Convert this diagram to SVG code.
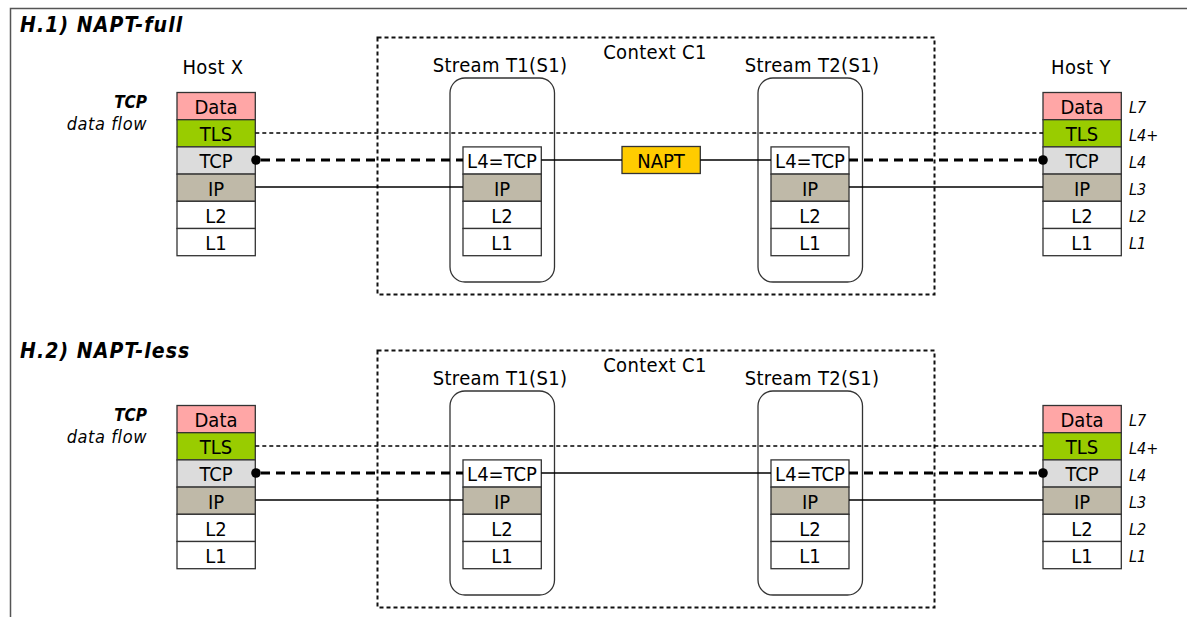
<svg xmlns="http://www.w3.org/2000/svg" width="1187" height="617" viewBox="0 0 1187 617">
  <style>
    text { font-family: "DejaVu Sans Condensed", "DejaVu Sans", Verdana, sans-serif; font-stretch: condensed; fill: #000; }
    .title { font-size: 21px; font-weight: bold; font-style: italic; letter-spacing: 1.1px; }
    .lbl { font-size: 20px; text-anchor: middle; letter-spacing: 0.35px; }
    .cell { font-size: 20px; text-anchor: middle; }
    .side { font-size: 16px; font-style: italic; }
    .flowA { font-size: 17px; font-weight: bold; font-style: italic; text-anchor: end; }
    .flowB { font-size: 18px; font-style: italic; text-anchor: end; letter-spacing: 0.6px; }
    .box { stroke: #333; stroke-width: 1.3; }
    .data { fill: #FFA6A6; }
    .tls { fill: #99CC00; }
    .tcp { fill: #DCDCDC; }
    .ip { fill: #BFB9A8; }
    .wh { fill: #FFFFFF; }
    .napt { fill: #FFCC00; }
    .ctx { fill: none; stroke: #111; stroke-width: 2; stroke-dasharray: 4 3; }
    .strm { fill: none; stroke: #333; stroke-width: 1.3; }
    .thin { stroke: #000; stroke-width: 1.3; fill: none; }
    .tlsln { stroke: #000; stroke-width: 1.6; stroke-dasharray: 4 3; fill: none; }
    .tcpln { stroke: #000; stroke-width: 3.2; stroke-dasharray: 9 6; fill: none; }
    .frame { stroke: #555; stroke-width: 1.5; fill: none; }
  </style>

  <!-- outer frame -->
  <path class="frame" d="M10.5,617 V8.5 H1187"/>

  <!-- ===== H.1 ===== -->
  <g id="section-h1">
    <text class="title" x="20" y="31.5">H.1) NAPT-full</text>

    <g id="context-c1-a">
      <rect class="ctx" x="377.5" y="37.5" width="557" height="257"/>
      <text class="lbl" x="655" y="58.5">Context C1</text>
    </g>

    <g id="stream-t1-a">
      <rect class="strm" x="450" y="78" width="104.5" height="204" rx="15"/>
      <text class="lbl" x="500" y="71.5">Stream T1(S1)</text>
      <rect class="box wh" x="463" y="146.9" width="78.3" height="27.2"/>
      <text class="cell" x="502" y="168.3">L4=TCP</text>
      <rect class="box ip" x="463" y="174.1" width="78.3" height="27.2"/>
      <text class="cell" x="502" y="195.5">IP</text>
      <rect class="box wh" x="463" y="201.3" width="78.3" height="27.2"/>
      <text class="cell" x="502" y="222.7">L2</text>
      <rect class="box wh" x="463" y="228.5" width="78.3" height="27.2"/>
      <text class="cell" x="502" y="249.9">L1</text>
    </g>

    <g id="stream-t2-a">
      <rect class="strm" x="758" y="78" width="104.5" height="204" rx="15"/>
      <text class="lbl" x="812" y="71.5">Stream T2(S1)</text>
      <rect class="box wh" x="771" y="146.9" width="78" height="27.2"/>
      <text class="cell" x="810" y="168.3">L4=TCP</text>
      <rect class="box ip" x="771" y="174.1" width="78" height="27.2"/>
      <text class="cell" x="810" y="195.5">IP</text>
      <rect class="box wh" x="771" y="201.3" width="78" height="27.2"/>
      <text class="cell" x="810" y="222.7">L2</text>
      <rect class="box wh" x="771" y="228.5" width="78" height="27.2"/>
      <text class="cell" x="810" y="249.9">L1</text>
    </g>

    <g id="napt-a">
      <rect class="box napt" x="622" y="146.5" width="78.3" height="27"/>
      <text class="cell" x="661" y="168">NAPT</text>
    </g>

    <g id="host-x-a">
      <text class="lbl" x="213" y="73.5">Host X</text>
      <text class="flowA" x="147" y="108">TCP</text>
      <text class="flowB" x="147" y="130">data flow</text>
      <rect class="box data" x="177" y="92.5" width="78.3" height="27.2"/>
      <text class="cell" x="216" y="113.9">Data</text>
      <rect class="box tls" x="177" y="119.7" width="78.3" height="27.2"/>
      <text class="cell" x="216" y="141.1">TLS</text>
      <rect class="box tcp" x="177" y="146.9" width="78.3" height="27.2"/>
      <text class="cell" x="216" y="168.3">TCP</text>
      <rect class="box ip" x="177" y="174.1" width="78.3" height="27.2"/>
      <text class="cell" x="216" y="195.5">IP</text>
      <rect class="box wh" x="177" y="201.3" width="78.3" height="27.2"/>
      <text class="cell" x="216" y="222.7">L2</text>
      <rect class="box wh" x="177" y="228.5" width="78.3" height="27.2"/>
      <text class="cell" x="216" y="249.9">L1</text>
    </g>

    <g id="host-y-a">
      <text class="lbl" x="1081" y="73.5">Host Y</text>
      <rect class="box data" x="1043" y="92.5" width="78.3" height="27.2"/>
      <text class="cell" x="1082" y="113.9">Data</text>
      <rect class="box tls" x="1043" y="119.7" width="78.3" height="27.2"/>
      <text class="cell" x="1082" y="141.1">TLS</text>
      <rect class="box tcp" x="1043" y="146.9" width="78.3" height="27.2"/>
      <text class="cell" x="1082" y="168.3">TCP</text>
      <rect class="box ip" x="1043" y="174.1" width="78.3" height="27.2"/>
      <text class="cell" x="1082" y="195.5">IP</text>
      <rect class="box wh" x="1043" y="201.3" width="78.3" height="27.2"/>
      <text class="cell" x="1082" y="222.7">L2</text>
      <rect class="box wh" x="1043" y="228.5" width="78.3" height="27.2"/>
      <text class="cell" x="1082" y="249.9">L1</text>
      <text class="side" x="1129" y="113.3">L7</text>
      <text class="side" x="1129" y="140.5">L4+</text>
      <text class="side" x="1129" y="167.7">L4</text>
      <text class="side" x="1129" y="194.9">L3</text>
      <text class="side" x="1129" y="222.1">L2</text>
      <text class="side" x="1129" y="249.3">L1</text>
    </g>

    <g id="connectors-a">
      <line class="tlsln" x1="255.3" y1="133" x2="1043" y2="133"/>
      <line class="tcpln" x1="261" y1="160" x2="463" y2="160"/>
      <line class="tcpln" x1="849" y1="160" x2="1037" y2="160"/>
      <circle cx="256" cy="160" r="4.8" fill="#000"/>
      <circle cx="1043" cy="160" r="4.8" fill="#000"/>
      <line class="thin" x1="255.3" y1="187" x2="463" y2="187"/>
      <line class="thin" x1="849" y1="187" x2="1043" y2="187"/>
      <line class="thin" x1="541.3" y1="160" x2="622" y2="160"/>
      <line class="thin" x1="700.3" y1="160" x2="771" y2="160"/>
    </g>
  </g>

  <!-- ===== H.2 ===== -->
  <g id="section-h2">
    <text class="title" x="20" y="358">H.2) NAPT-less</text>
    <g transform="translate(0,313)">
      <g id="context-c1-b">
        <rect class="ctx" x="377.5" y="37.5" width="557" height="257"/>
        <text class="lbl" x="655" y="58.5">Context C1</text>
      </g>

      <g id="stream-t1-b">
        <rect class="strm" x="450" y="78" width="104.5" height="204" rx="15"/>
        <text class="lbl" x="500" y="71.5">Stream T1(S1)</text>
        <rect class="box wh" x="463" y="146.9" width="78.3" height="27.2"/>
        <text class="cell" x="502" y="168.3">L4=TCP</text>
        <rect class="box ip" x="463" y="174.1" width="78.3" height="27.2"/>
        <text class="cell" x="502" y="195.5">IP</text>
        <rect class="box wh" x="463" y="201.3" width="78.3" height="27.2"/>
        <text class="cell" x="502" y="222.7">L2</text>
        <rect class="box wh" x="463" y="228.5" width="78.3" height="27.2"/>
        <text class="cell" x="502" y="249.9">L1</text>
      </g>

      <g id="stream-t2-b">
        <rect class="strm" x="758" y="78" width="104.5" height="204" rx="15"/>
        <text class="lbl" x="812" y="71.5">Stream T2(S1)</text>
        <rect class="box wh" x="771" y="146.9" width="78" height="27.2"/>
        <text class="cell" x="810" y="168.3">L4=TCP</text>
        <rect class="box ip" x="771" y="174.1" width="78" height="27.2"/>
        <text class="cell" x="810" y="195.5">IP</text>
        <rect class="box wh" x="771" y="201.3" width="78" height="27.2"/>
        <text class="cell" x="810" y="222.7">L2</text>
        <rect class="box wh" x="771" y="228.5" width="78" height="27.2"/>
        <text class="cell" x="810" y="249.9">L1</text>
      </g>

      <g id="host-x-b">
        <text class="flowA" x="147" y="108">TCP</text>
        <text class="flowB" x="147" y="130">data flow</text>
        <rect class="box data" x="177" y="92.5" width="78.3" height="27.2"/>
        <text class="cell" x="216" y="113.9">Data</text>
        <rect class="box tls" x="177" y="119.7" width="78.3" height="27.2"/>
        <text class="cell" x="216" y="141.1">TLS</text>
        <rect class="box tcp" x="177" y="146.9" width="78.3" height="27.2"/>
        <text class="cell" x="216" y="168.3">TCP</text>
        <rect class="box ip" x="177" y="174.1" width="78.3" height="27.2"/>
        <text class="cell" x="216" y="195.5">IP</text>
        <rect class="box wh" x="177" y="201.3" width="78.3" height="27.2"/>
        <text class="cell" x="216" y="222.7">L2</text>
        <rect class="box wh" x="177" y="228.5" width="78.3" height="27.2"/>
        <text class="cell" x="216" y="249.9">L1</text>
      </g>

      <g id="host-y-b">
        <rect class="box data" x="1043" y="92.5" width="78.3" height="27.2"/>
        <text class="cell" x="1082" y="113.9">Data</text>
        <rect class="box tls" x="1043" y="119.7" width="78.3" height="27.2"/>
        <text class="cell" x="1082" y="141.1">TLS</text>
        <rect class="box tcp" x="1043" y="146.9" width="78.3" height="27.2"/>
        <text class="cell" x="1082" y="168.3">TCP</text>
        <rect class="box ip" x="1043" y="174.1" width="78.3" height="27.2"/>
        <text class="cell" x="1082" y="195.5">IP</text>
        <rect class="box wh" x="1043" y="201.3" width="78.3" height="27.2"/>
        <text class="cell" x="1082" y="222.7">L2</text>
        <rect class="box wh" x="1043" y="228.5" width="78.3" height="27.2"/>
        <text class="cell" x="1082" y="249.9">L1</text>
        <text class="side" x="1129" y="113.3">L7</text>
        <text class="side" x="1129" y="140.5">L4+</text>
        <text class="side" x="1129" y="167.7">L4</text>
        <text class="side" x="1129" y="194.9">L3</text>
        <text class="side" x="1129" y="222.1">L2</text>
        <text class="side" x="1129" y="249.3">L1</text>
      </g>

      <g id="connectors-b">
        <line class="tlsln" x1="255.3" y1="133" x2="1043" y2="133"/>
        <line class="tcpln" x1="261" y1="160" x2="463" y2="160"/>
        <line class="tcpln" x1="849" y1="160" x2="1037" y2="160"/>
        <circle cx="256" cy="160" r="4.8" fill="#000"/>
        <circle cx="1043" cy="160" r="4.8" fill="#000"/>
        <line class="thin" x1="255.3" y1="187" x2="463" y2="187"/>
        <line class="thin" x1="849" y1="187" x2="1043" y2="187"/>
        <line class="thin" x1="541.3" y1="160" x2="771" y2="160"/>
      </g>
    </g>
  </g>
</svg>
